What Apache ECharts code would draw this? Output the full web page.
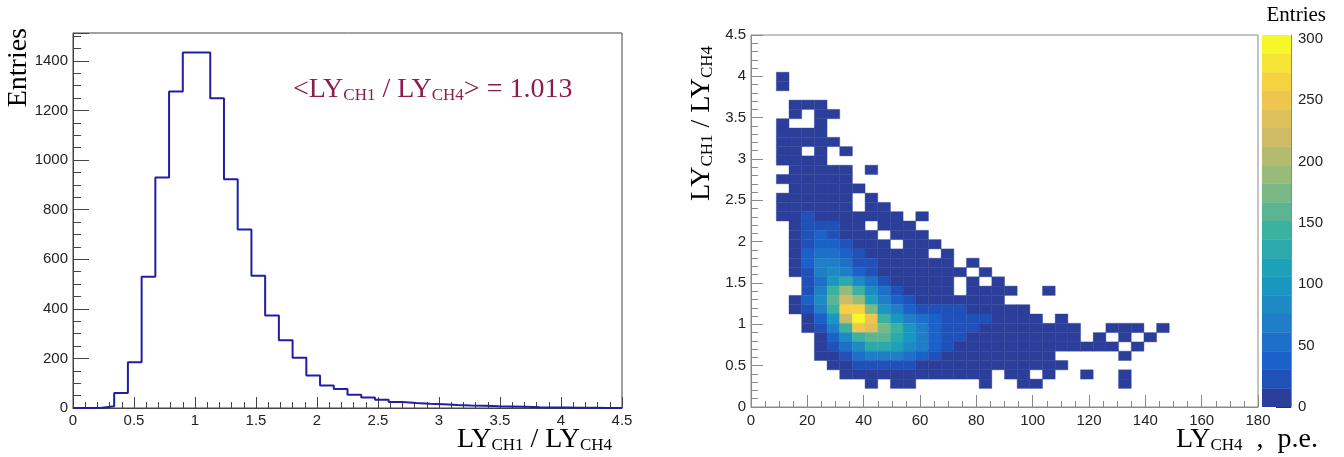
<!DOCTYPE html>
<html><head><meta charset="utf-8">
<script src="https://cdn.jsdelivr.net/npm/echarts/dist/echarts.min.js"></script>
<style>html,body{margin:0;padding:0;background:#fff}#c{width:1344px;height:457px}</style>
</head><body><div id="c"></div>
<script>
// ---------- data: 1D histogram (LY_CH1 / LY_CH4), 40 bins over 0..4.5 ----------
const histBinWidth = 0.1125;
const histCounts = [0,0,7,60,184,529,929,1276,1433,1433,1249,922,720,533,373,273,203,131,91,77,
                    53,42,33,24,20,17,15,12,10,9,7,6,5,3,2,2,1,1,0,0];
const histXTicks = [0,0.5,1,1.5,2,2.5,3,3.5,4,4.5];
const histYTicks = [0,200,400,600,800,1000,1200,1400];

// ---------- data: 2D histogram, 40x40 bins, x 0..180 (4.5), y 0..4.5 (0.1125) ----------
const heatBinX = 4.5;
const heatBinY = 0.1125;
// [row j, first column i, contents from column i onward]
const heatRows = [
  [35, 2, [3]],
  [34, 2, [2]],
  [32, 3, [2,3,2]],
  [31, 3, [3,0,2,1]],
  [30, 2, [2,0,0,3]],
  [29, 2, [4,5,3,2]],
  [28, 2, [3,6,4,3,2]],
  [27, 2, [5,4,0,3,0,1]],
  [26, 2, [6,7,5,3]],
  [25, 3, [8,6,4,2,1,0,1]],
  [24, 2, [4,9,7,5,3,2]],
  [23, 3, [10,9,6,4,2,1]],
  [22, 2, [5,11,12,8,5,3,0,1]],
  [21, 2, [4,12,14,10,7,4,0,2,1]],
  [20, 2, [8,12,20,14,10,7,5,3,2,1,0,1]],
  [19, 3, [12,22,24,16,10,6,0,3,2,1]],
  [18, 3, [10,26,40,30,13,9,6,0,3,2,1]],
  [17, 3, [11,28,45,42,22,12,8,5,0,3,2,1]],
  [16, 3, [14,35,55,58,40,20,11,7,5,3,2,0,1]],
  [15, 3, [13,32,62,70,55,28,17,10,7,5,3,2,1,0,1]],
  [14, 3, [10,30,65,85,70,40,22,13,9,6,4,3,2,1,0,1]],
  [13, 4, [20,55,105,125,88,55,28,13,9,6,4,3,0,1,0,1]],
  [12, 4, [22,70,140,185,140,90,55,28,15,10,7,4,0,2,1,1,1,0,0,1]],
  [11, 3, [6,35,85,155,225,185,120,75,42,25,15,10,6,4,3,2,1]],
  [10, 3, [5,28,75,140,260,265,170,105,62,42,28,18,16,17,9,6,4,2,1]],
  [9, 4, [12,45,105,215,303,245,150,105,75,58,40,22,18,16,16,6,4,2,1,0,1]],
  [8, 4, [8,28,75,140,245,230,170,138,95,72,45,25,17,16,10,7,5,3,2,2,1,1,0,0,1,1,1,0,1]],
  [7, 5, [12,42,90,140,165,155,125,95,75,45,28,18,12,8,6,4,3,2,1,1,1,0,1,0,1,0,1]],
  [6, 5, [8,25,58,90,125,128,110,80,62,42,25,14,10,7,5,3,2,2,1,1,1,1,1,1,0,1]],
  [5, 5, [4,10,28,48,65,70,62,48,35,22,13,9,6,4,3,2,1,1,1,0,0,0,0,0,1]],
  [4, 6, [5,10,18,25,28,24,18,12,8,5,4,3,2,2,1,1,1,1,1]],
  [3, 7, [3,5,7,8,6,5,4,3,2,2,1,1,0,1,1,0,1,0,0,1,0,0,1]],
  [2, 9, [1,0,2,1,0,0,0,0,0,1,0,0,1,1,0,0,0,0,0,0,1]]
];
const heatXTicks = [0,20,40,60,80,100,120,140,160,180];
const heatYTicks = [0,0.5,1,1.5,2,2.5,3,3.5,4,4.5];
const zMax = 303;
const nLevels = 20;
const zTicks = [0,50,100,150,200,250,300];

// ---------- palette (ROOT kBird, slightly muted as in the picture) ----------
const birdR = [0.2082,0.0592,0.0780,0.0232,0.1802,0.5301,0.8186,0.9956,0.9764];
const birdG = [0.1664,0.3599,0.5041,0.6419,0.7178,0.7492,0.7328,0.7862,0.9832];
const birdB = [0.5293,0.8684,0.8385,0.7914,0.6425,0.4662,0.3499,0.1968,0.0539];
const muted = 0.14;
function bird(t){
  const s = Math.max(0, Math.min(1, t)) * 8;
  const k = Math.min(7, Math.floor(s)), f = s - k;
  const ch = a => a[k] + (a[k+1] - a[k]) * f;
  const r = ch(birdR), g = ch(birdG), b = ch(birdB);
  const l = 0.3 * r + 0.59 * g + 0.11 * b;
  const c = x => Math.round(255 * (x + (l - x) * muted));
  return 'rgb(' + c(r) + ',' + c(g) + ',' + c(b) + ')';
}
const levelColors = [];
for (let k = 0; k < nLevels; k++) levelColors.push(bird(Math.floor((k + 0.99) * 255 / nLevels) / 254));
const levelOf = v => Math.min(nLevels - 1, Math.floor(v / (zMax / nLevels)));

// ---------- build series data ----------
const histData = histCounts.map((v, k) => [k * histBinWidth, v]);
histData.push([histCounts.length * histBinWidth, histCounts[histCounts.length - 1]]);

const heatData = [];
heatRows.forEach(([j, i0, vals]) => {
  vals.forEach((v, n) => { if (v > 0) heatData.push([(i0 + n) * heatBinX, j * heatBinY, v]); });
});
const barData = levelColors.map((c, k) => [0, k * zMax / nLevels, (k + 1) * zMax / nLevels]);

// ---------- styles ----------
const serif = 'Liberation Serif';
const sans = 'Liberation Sans';
const plain = v => String(+v.toFixed(4));
const lab = (m) => ({color: '#222', fontFamily: sans, fontSize: 15, margin: m, formatter: plain});
const dark = '#444', grey = '#8a8a8a';
const richT = (fill) => ({
  m: {fontFamily: serif, fontSize: 28, lineHeight: 28, fill: fill},
  s: {fontFamily: serif, fontSize: 17, lineHeight: 14, verticalAlign: 'bottom', fill: fill}
});

const chart = echarts.init(document.getElementById('c'), null, {renderer: 'canvas'});
chart.setOption({
  animation: false,
  backgroundColor: '#fff',
  grid: [
    {left: 73, top: 33, width: 549, height: 375, show: true, borderColor: dark, borderWidth: 1},
    {left: 751, top: 35, width: 507, height: 372, show: true, borderColor: grey, borderWidth: 1},
    {left: 1262, top: 35, width: 29, height: 372, show: false}
  ],
  xAxis: [
    {gridIndex: 0, type: 'value', min: 0, max: 4.5, interval: 0.5,
     axisLine: {lineStyle: {color: dark}}, axisTick: {inside: true, length: 11, lineStyle: {color: dark}},
     minorTick: {show: true, splitNumber: 5, length: 6, lineStyle: {color: dark}},
     splitLine: {show: false}, axisLabel: lab(5)},
    {gridIndex: 1, type: 'value', min: 0, max: 180, interval: 20,
     axisLine: {lineStyle: {color: grey}}, axisTick: {inside: true, length: 12, lineStyle: {color: grey}},
     minorTick: {show: true, splitNumber: 4, length: 6, lineStyle: {color: grey}},
     splitLine: {show: false}, axisLabel: lab(6)},
    {gridIndex: 2, type: 'category', data: ['z'], show: false}
  ],
  yAxis: [
    {gridIndex: 0, type: 'value', min: 0, max: 1512, interval: 200,
     axisLine: {show: true, lineStyle: {color: dark}}, axisTick: {show: true, inside: true, length: 16, lineStyle: {color: dark}},
     minorTick: {show: true, splitNumber: 4, length: 8, lineStyle: {color: dark}},
     splitLine: {show: false}, axisLabel: Object.assign(lab(5), {showMaxLabel: false})},
    {gridIndex: 1, type: 'value', min: 0, max: 4.5, interval: 0.5,
     axisLine: {show: true, lineStyle: {color: grey}}, axisTick: {show: true, inside: true, length: 12, lineStyle: {color: grey}},
     minorTick: {show: true, splitNumber: 5, length: 7, lineStyle: {color: grey}},
     splitLine: {show: false}, axisLabel: lab(5)},
    {gridIndex: 2, type: 'value', min: 0, max: zMax, position: 'right',
     axisLine: {show: true, lineStyle: {color: grey}},
     axisTick: {show: true, inside: true, length: 15, customValues: zTicks, lineStyle: {color: '#333'}},
     splitLine: {show: false}, axisLabel: Object.assign(lab(7), {customValues: zTicks})}
  ],
  series: [
    {type: 'line', xAxisIndex: 0, yAxisIndex: 0, step: 'end', data: histData, symbol: 'none',
     lineStyle: {color: '#1f1fa3', width: 2}, clip: true, z: 5},
    {type: 'custom', xAxisIndex: 1, yAxisIndex: 1, data: heatData, encode: {x: 0, y: 1}, clip: true,
     renderItem: (params, api) => {
       const x = api.value(0), y = api.value(1), v = api.value(2);
       const a = api.coord([x, y + heatBinY]);
       const b = api.coord([x + heatBinX, y]);
       const col = levelColors[levelOf(v)];
       return {type: 'rect', shape: {x: a[0], y: a[1], width: b[0] - a[0], height: b[1] - a[1]},
               style: {fill: col, stroke: col, lineWidth: 0.4}};
     }},
    {type: 'custom', xAxisIndex: 2, yAxisIndex: 2, data: barData, encode: {x: 0, y: [1, 2]}, clip: true,
     renderItem: (params, api) => {
       const lo = api.value(1), hi = api.value(2);
       const a = api.coord([0, hi]), b = api.coord([0, lo]);
       const w = api.size([1, 0])[0];
       const col = levelColors[params.dataIndex];
       return {type: 'rect', shape: {x: a[0] - w / 2, y: a[1], width: w, height: b[1] - a[1]},
               style: {fill: col, stroke: col, lineWidth: 0.4}};
     }}
  ],
  graphic: [
    {type: 'text', x: 19, y: 28, rotation: Math.PI / 2,
     style: {text: 'Entries', font: '28px ' + serif, fill: '#000', align: 'right', verticalAlign: 'middle'}},
    {type: 'text', x: 612, y: 440,
     style: {text: '{m|LY}{s|CH1}{m| / LY}{s|CH4}', rich: richT('#000'), fill: '#000', align: 'right', verticalAlign: 'middle'}},
    {type: 'text', x: 293, y: 90,
     style: {text: '{m|<LY}{s|CH1}{m| / LY}{s|CH4}{m|> = 1.013}', rich: richT('#8c1d4b'), fill: '#8c1d4b', align: 'left', verticalAlign: 'middle'}},
    {type: 'text', x: 702, y: 46, rotation: Math.PI / 2,
     style: {text: '{m|LY}{s|CH1}{m| / LY}{s|CH4}', rich: richT('#000'), fill: '#000', align: 'right', verticalAlign: 'middle'}},
    {type: 'text', x: 1318, y: 440,
     style: {text: '{m|LY}{s|CH4}{m|  ,  p.e.}', rich: richT('#000'), fill: '#000', align: 'right', verticalAlign: 'middle'}},
    {type: 'text', x: 1326, y: 15,
     style: {text: 'Entries', font: '21px ' + serif, fill: '#000', align: 'right', verticalAlign: 'middle'}}
  ]
});
</script>
</body></html>
